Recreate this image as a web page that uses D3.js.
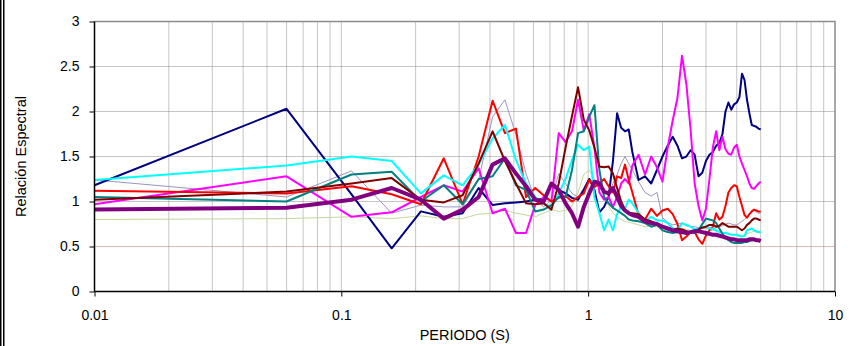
<!DOCTYPE html>
<html><head><meta charset="utf-8">
<script src="https://cdn.jsdelivr.net/npm/d3@7"></script>
<style>body{margin:0;background:#fff}svg{display:block}text{font-family:"Liberation Sans",Arial,sans-serif;fill:#000}</style>
</head><body>
<svg id="c" width="851" height="346"></svg>
<script>
const periods=[0.01,0.06,0.11,0.16,0.21,0.26,0.31,0.36,0.41,0.46,0.51,0.56,0.61,0.66,0.71,0.76,0.81,0.86,0.91,0.96,1.01,1.06,1.11,1.16,1.21,1.26,1.31,1.36,1.41,1.46,1.51,
1.6,1.7,1.8,1.9,2.0,2.1,2.2,2.3,2.4,2.5,2.6,2.7,2.8,2.9,3.0,3.1,3.2,3.3,3.4,3.5,3.6,3.7,3.8,3.9,4.0,4.1,4.2,4.3,4.4,4.5,4.6,4.7,4.8,4.9,5.0];

const verdeClaro=[0.80,0.81,0.83,0.81,0.84,0.81,0.81,0.86,0.87,0.90,0.87,0.85,0.83,0.87,0.91,0.89,0.90,0.95,1.10,1.30,1.35,1.25,1.17,1.05,0.95,0.87,0.83,0.80,0.78,0.77,0.76,
0.74,0.72,0.73,0.72,0.70,0.71,0.70,0.69,0.70,0.69,0.68,0.68,0.69,0.70,0.70,0.69,0.68,0.67,0.66,0.65,0.65,0.64,0.63,0.63,0.62,0.61,0.61,0.62,0.64,0.65,0.66,0.67,0.66,0.65,0.65];
const lavanda=[1.24,1.05,1.34,0.87,0.96,0.94,0.94,1.24,1.94,2.13,1.74,1.31,1.02,0.94,1.02,1.31,1.20,1.09,1.05,1.15,1.26,1.20,1.15,1.12,1.10,1.20,1.30,1.42,1.50,1.42,1.35,
1.22,1.10,1.06,1.10,0.82,0.77,0.74,0.75,0.76,0.73,0.72,0.72,0.71,0.70,0.71,0.71,0.70,0.71,0.72,0.73,0.75,0.76,0.75,0.74,0.74,0.76,0.78,0.80,0.83,0.86,0.90,0.90,0.88,0.87,0.87];
const azulMarino=[1.18,2.03,1.08,0.48,0.89,0.83,0.87,1.15,0.96,0.98,0.99,1.00,1.02,1.03,1.20,1.13,1.09,1.04,1.02,1.13,1.25,1.13,0.88,0.94,1.05,1.45,1.98,1.82,1.78,1.80,1.55,
1.24,1.28,1.20,1.35,1.50,1.62,1.72,1.62,1.48,1.50,1.57,1.52,1.28,1.32,1.45,1.52,1.55,1.62,1.65,1.75,2.00,2.10,2.02,2.08,2.10,2.16,2.42,2.35,2.13,1.98,1.85,1.84,1.83,1.81,1.80];
const magenta=[0.97,1.28,0.83,0.88,1.05,1.18,1.11,1.37,0.87,0.92,0.65,0.65,0.96,1.05,1.00,1.76,1.66,1.78,2.13,1.79,1.97,1.60,1.10,1.02,1.05,0.94,1.05,1.20,1.25,1.20,1.40,
1.52,1.30,1.50,1.38,1.22,1.60,1.90,2.15,2.62,2.30,1.80,1.20,0.95,0.79,0.92,1.25,1.60,1.78,1.57,1.72,1.58,1.53,1.52,1.60,1.63,1.50,1.42,1.35,1.28,1.20,1.15,1.14,1.17,1.20,1.22];
const rojo=[1.12,1.09,1.17,1.08,0.97,1.48,0.97,1.50,2.12,1.76,1.81,1.05,1.15,1.07,1.00,1.04,1.06,1.00,1.05,1.09,1.24,1.16,1.20,1.25,1.17,1.10,1.28,1.26,1.41,1.24,1.10,
0.85,0.80,0.92,0.84,0.90,0.92,0.86,0.75,0.57,0.61,0.66,0.66,0.58,0.53,0.62,0.68,0.72,0.87,0.80,0.83,0.95,1.10,1.15,1.18,1.17,1.05,0.95,0.85,0.82,0.86,0.89,0.91,0.90,0.89,0.89];
const cian=[1.24,1.40,1.50,1.45,1.09,1.29,1.18,1.41,1.70,1.85,1.46,1.20,1.05,0.98,0.94,1.09,1.25,1.46,1.63,1.57,1.61,1.05,0.87,0.68,0.80,0.68,0.86,0.94,0.92,1.02,0.98,
0.87,0.78,0.83,0.79,0.79,0.76,0.70,0.68,0.76,0.74,0.72,0.69,0.70,0.72,0.72,0.70,0.70,0.68,0.66,0.65,0.65,0.64,0.63,0.63,0.63,0.62,0.61,0.62,0.68,0.69,0.70,0.68,0.67,0.66,0.66];
const verdeAzulado=[1.05,1.00,1.30,1.33,1.00,1.18,0.97,1.25,1.28,1.48,1.18,1.13,0.89,0.91,0.96,1.05,1.05,1.35,1.76,1.78,1.94,2.07,1.35,1.05,0.98,0.93,0.90,0.87,0.84,0.80,0.79,
0.78,0.76,0.72,0.74,0.68,0.66,0.65,0.66,0.65,0.66,0.66,0.65,0.68,0.75,0.81,0.80,0.79,0.76,0.70,0.64,0.60,0.57,0.55,0.54,0.54,0.54,0.54,0.55,0.55,0.56,0.57,0.57,0.57,0.57,0.57];
const granate=[1.02,1.11,1.20,1.26,1.02,0.99,1.07,1.42,1.78,1.45,1.20,0.98,0.97,0.98,0.91,1.20,1.60,1.95,2.27,1.91,1.79,1.60,1.39,1.38,1.39,1.31,1.15,1.00,0.91,0.87,0.87,
0.86,0.80,0.78,0.75,0.72,0.70,0.68,0.70,0.69,0.67,0.65,0.67,0.69,0.71,0.72,0.74,0.74,0.72,0.73,0.76,0.74,0.72,0.72,0.72,0.72,0.70,0.68,0.70,0.74,0.76,0.79,0.81,0.81,0.80,0.79];
const purpura=[0.91,0.93,1.02,1.15,1.02,0.81,0.91,1.05,1.41,1.48,1.31,1.17,1.02,1.00,1.20,1.13,0.98,0.87,0.72,0.94,1.09,1.22,1.20,1.11,1.09,1.15,1.05,0.95,0.90,0.87,0.85,
0.83,0.78,0.76,0.75,0.72,0.70,0.68,0.67,0.66,0.65,0.66,0.67,0.67,0.66,0.65,0.64,0.63,0.63,0.62,0.61,0.60,0.59,0.58,0.58,0.57,0.57,0.57,0.57,0.57,0.58,0.58,0.58,0.57,0.57,0.56];
const refPeriods=[0.01,10];
const refValues=[0.5,0.5];

const xTicks=[0.01,0.1,1,10];
const yTicks=[0,0.5,1,1.5,2,2.5,3];

const series=[
 {v:verdeClaro,c:"#c4d79b",w:1},
 {v:lavanda,c:"#9d94c0",w:1},
 {v:azulMarino,c:"#000080",w:2},
 {v:magenta,c:"#ff00ff",w:2},
 {v:rojo,c:"#ff0000",w:2},
 {v:cian,c:"#00ffff",w:2},
 {v:verdeAzulado,c:"#008080",w:2},
 {v:granate,c:"#800000",w:2},
 {v:purpura,c:"#800080",w:4}
];

const svg=d3.select("#c");
const L=94.5,R=835,T=21.5,B=291.5;
const x=d3.scaleLog().domain([0.01,10]).range([L,R]);
const y=d3.scaleLinear().domain([0,3]).range([B,T]);

// page border
svg.append("line").attr("x1",0.75).attr("x2",0.75).attr("y1",0).attr("y2",346).attr("stroke","#000").attr("stroke-width",1.5);
svg.append("line").attr("x1",3.75).attr("x2",3.75).attr("y1",0).attr("y2",346).attr("stroke","#000").attr("stroke-width",1.5);

// grid
const g=svg.append("g");
x.ticks().filter(d=>d>0.0101&&d<9.99).forEach(d=>{
  g.append("line").attr("x1",x(d)).attr("x2",x(d)).attr("y1",T).attr("y2",B)
   .attr("stroke","#8a8a8a").attr("stroke-width",1).attr("stroke-dasharray","1,1");
});
yTicks.filter(d=>d>0&&d<3&&d!==0.5).forEach(d=>{
  g.append("line").attr("x1",L).attr("x2",R).attr("y1",y(d)).attr("y2",y(d))
   .attr("stroke","#8a8a8a").attr("stroke-width",1).attr("stroke-dasharray","1,1");
});
// top/right border
svg.append("path").attr("d",`M${L},${T}H${R}V${B}`).attr("fill","none").attr("stroke","#8c8c8c").attr("stroke-width",1.5);

// reference line at 0.5
svg.append("path").datum(refPeriods.map((p,i)=>[p,refValues[i]]))
  .attr("d",d3.line().x(d=>x(d[0])).y(d=>y(d[1])))
  .attr("fill","none").attr("stroke","#b07878").attr("stroke-width",1.2).attr("stroke-dasharray","1,1");

const line=d3.line().x(d=>x(d[0])).y(d=>y(d[1]));
series.forEach(s=>{
  svg.append("path").datum(periods.map((p,i)=>[p,s.v[i]]))
    .attr("d",line).attr("fill","none").attr("stroke",s.c).attr("stroke-width",s.w)
    .attr("stroke-linejoin","round");
});

// axes
const xa=svg.append("g").attr("transform",`translate(0,${B})`)
  .call(d3.axisBottom(x).tickValues(xTicks).tickFormat(d=>String(d)).tickSize(5).tickPadding(14));
const ya=svg.append("g").attr("transform",`translate(${L},0)`)
  .call(d3.axisLeft(y).tickValues(yTicks).tickFormat(d=>String(d)).tickSize(5).tickPadding(10));
[xa,ya].forEach(a=>{
  a.select(".domain").attr("stroke","#000").attr("stroke-width",1.5);
  a.selectAll(".tick line").attr("stroke","#000");
  a.selectAll("text").attr("font-size",14).attr("font-family","Liberation Sans, Arial, sans-serif");
});
xa.select(".domain").attr("d",`M${L},0H${R}`);
ya.select(".domain").attr("d",`M0,${T}V${B}`);

svg.append("text").attr("x",(L+R)/2).attr("y",340).attr("text-anchor","middle")
  .attr("font-size",14.5).text("PERIODO (S)");
svg.append("text").attr("transform",`translate(26,${(T+B)/2}) rotate(-90)`).attr("text-anchor","middle")
  .attr("font-size",14.5).text("Relación Espectral");
</script>
</body></html>
